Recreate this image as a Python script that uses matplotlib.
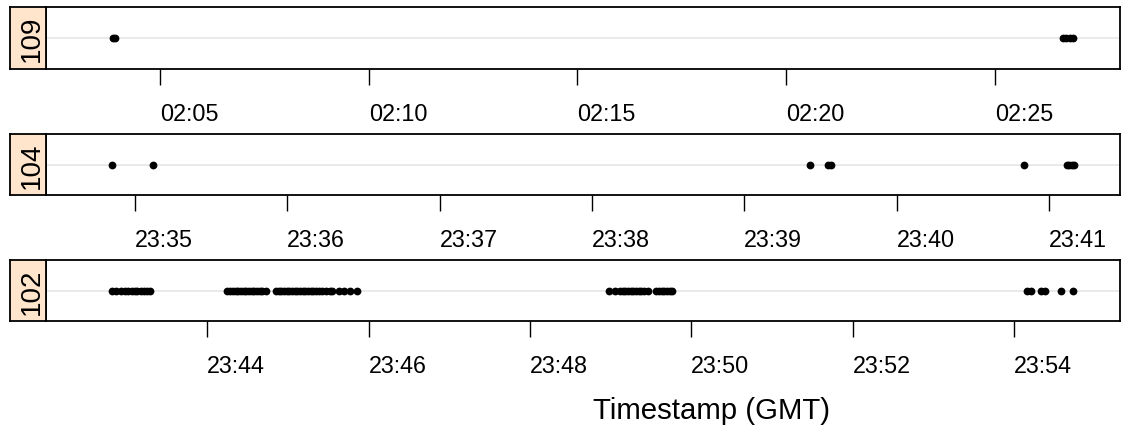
import datetime as dt
import matplotlib
matplotlib.use("Agg")
import matplotlib.pyplot as plt
import matplotlib.dates as mdates

plt.rcParams["font.family"] = ["Liberation Sans", "DejaVu Sans"]

# Detection timestamps (GMT) per receiver
panel_labels = ["109", "104", "102"]

times_109 = ["02:03:52", "02:03:55",
             "02:26:38", "02:26:43", "02:26:48", "02:26:53"]

times_104 = ["23:34:51", "23:35:07",
             "23:39:26", "23:39:33", "23:39:34",
             "23:40:50",
             "23:41:07", "23:41:08", "23:41:09", "23:41:10"]

times_102 = ["23:42:49", "23:42:52", "23:42:56", "23:42:59", "23:43:01", "23:43:04",
             "23:43:06", "23:43:08", "23:43:11", "23:43:13", "23:43:15", "23:43:17",
             "23:44:15", "23:44:17", "23:44:19", "23:44:21", "23:44:23", "23:44:25",
             "23:44:27", "23:44:29", "23:44:31", "23:44:33", "23:44:35", "23:44:37",
             "23:44:39", "23:44:41", "23:44:44",
             "23:44:51", "23:44:53", "23:44:55", "23:44:57", "23:44:59", "23:45:01",
             "23:45:03", "23:45:05", "23:45:07", "23:45:09", "23:45:11", "23:45:13",
             "23:45:15", "23:45:17", "23:45:19", "23:45:21", "23:45:23", "23:45:25",
             "23:45:28", "23:45:31", "23:45:33", "23:45:38", "23:45:42", "23:45:46",
             "23:45:51",
             "23:48:59", "23:49:03", "23:49:07", "23:49:09", "23:49:11", "23:49:13",
             "23:49:15", "23:49:17", "23:49:19", "23:49:21", "23:49:23", "23:49:25",
             "23:49:28", "23:49:34", "23:49:36", "23:49:38", "23:49:40", "23:49:42",
             "23:49:44", "23:49:46",
             "23:54:10", "23:54:13", "23:54:20", "23:54:23", "23:54:35", "23:54:44"]

panel_times = [times_109, times_104, times_102]
panel_ranges = [("02:02:16", "02:28:00"), ("23:34:25", "23:41:28"), ("23:42:00", "23:55:19")]
panel_ticks = [["02:05", "02:10", "02:15", "02:20", "02:25"],
               ["23:35", "23:36", "23:37", "23:38", "23:39", "23:40", "23:41"],
               ["23:44", "23:46", "23:48", "23:50", "23:52", "23:54"]]

base_day = dt.date(2015, 6, 1)


def to_num(hms):
    parts = [int(p) for p in hms.split(":")]
    while len(parts) < 3:
        parts.append(0)
    t = dt.datetime.combine(base_day, dt.time(*parts))
    return mdates.date2num(t)


W, H = 1130, 431
fig = plt.figure(figsize=(W / 100, H / 100), dpi=100)

# panel boxes in pixel rows (top, bottom)
rows = [(8, 70), (135, 196), (261, 322)]
x_strip, x_left, x_right = 10, 46, 1120
lw = 1.3

for label, times, (lo, hi), ticks, (top, bot) in zip(
        panel_labels, panel_times, panel_ranges, panel_ticks, rows):
    y0 = (H - bot) / H
    hh = (bot - top) / H
    ax = fig.add_axes([x_left / W, y0, (x_right - x_left) / W, hh])
    sax = fig.add_axes([x_strip / W, y0, (x_left - x_strip) / W, hh])

    ax.axhline(0, color="#e8e8e8", lw=1.3, zorder=1)
    xs = [to_num(t) for t in times]
    ax.plot(xs, [0] * len(xs), "o", color="black", ms=5.6, mew=0, zorder=3)

    ax.set_xlim(to_num(lo), to_num(hi))
    ax.set_ylim(-1, 1)
    ax.set_yticks([])
    ax.set_xticks([to_num(t) for t in ticks])
    ax.set_xticklabels(ticks)
    ax.tick_params(axis="x", direction="out", length=11.5, width=1.0,
                   pad=12.5, labelsize=16.8, colors="black")
    for lab in ax.get_xticklabels():
        lab.set_ha("left")
    for sp in ax.spines.values():
        sp.set_linewidth(lw)

    sax.set_facecolor("#ffe5cc")
    sax.set_xticks([])
    sax.set_yticks([])
    for sp in sax.spines.values():
        sp.set_linewidth(lw)
    sax.text(0.6, 0.5, label, rotation=90, ha="center", va="center",
             fontsize=20, transform=sax.transAxes)

fig.text(593 / W, (H - 411) / H, "Timestamp (GMT)", ha="left", va="center",
         fontsize=21.2)

fig.savefig("out.png", dpi=100)
